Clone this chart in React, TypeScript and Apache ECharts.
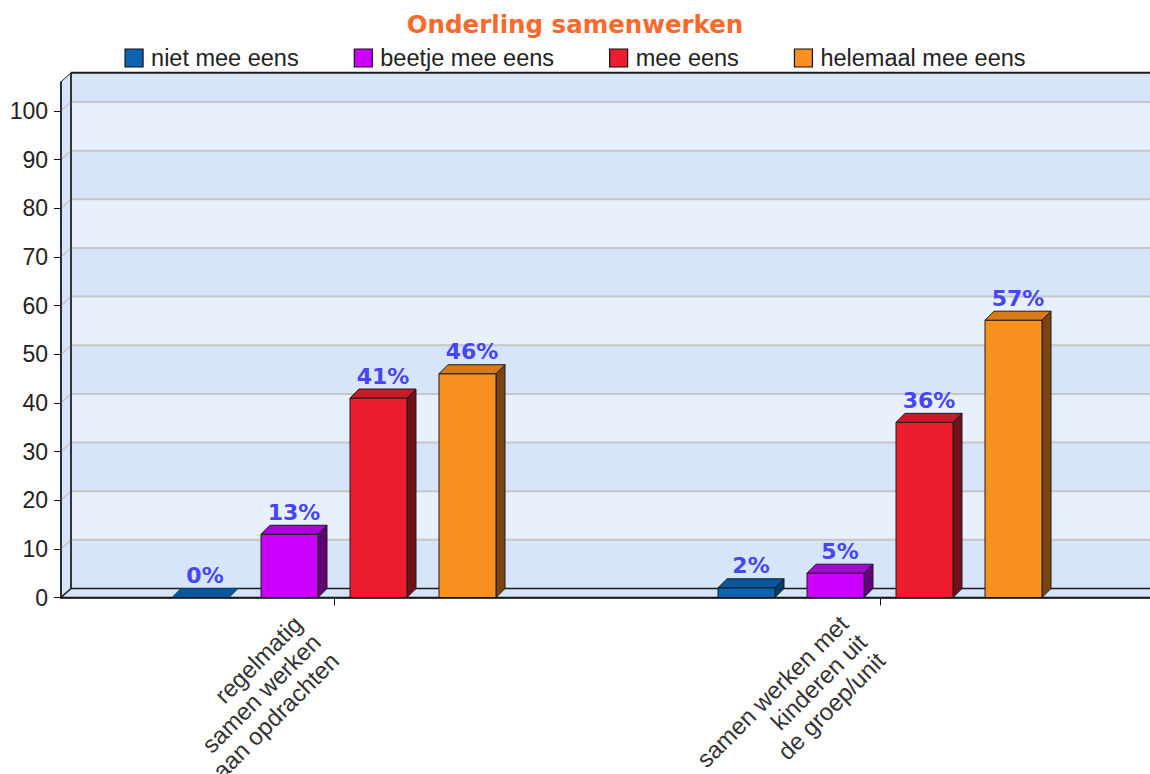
import React, { useEffect, useRef } from 'react';
import * as echarts from 'echarts';

// ---- data ----
const categories = [
  'regelmatig\nsamen werken\naan opdrachten',
  'samen werken met\nkinderen uit\nde groep/unit',
];
const seriesNames = ['niet mee eens', 'beetje mee eens', 'mee eens', 'helemaal mee eens'];
const nietMeeEens = [0, 2];
const beetjeMeeEens = [13, 5];
const meeEens = [41, 36];
const helemaalMeeEens = [46, 57];
const seriesValues = [nietMeeEens, beetjeMeeEens, meeEens, helemaalMeeEens];
const yTicks = [0, 10, 20, 30, 40, 50, 60, 70, 80, 90, 100];
const yMax = 106;

// ---- style ----
const FONT = "'Liberation Sans', Arial, sans-serif";
const BOLD_FONT = "'DejaVu Sans', 'Liberation Sans', sans-serif";
const DX = 10;
const DY = -9;
const BX = 9;
const BY = -9;
const BAR_W = 57 / 546;
const BAR_PITCH = 89 / 546;
const WALL_DARK = '#d7e5fb';
const WALL_LIGHT = '#e8f0fe';
const GRID = '#c6c6c6';
const EDGE = '#1c1c1c';

const palettes = [
  { front: '#0a64b2', top: '#09589d', side: '#063c6c' },
  { front: '#cc00ff', top: '#aa00d8', side: '#62007a' },
  { front: '#ed1d2f', top: '#c91a28', side: '#721018' },
  { front: '#f7901e', top: '#d8791a', side: '#7a4510' },
];

const barRender = (k: number) => (params: any, api: any) => {
  const c = api.value(0);
  const v = api.value(1);
  const base = api.coord([c, 0]);
  const topP = api.coord([c, v]);
  const bw = api.size([1, 0])[0];
  const w = bw * BAR_W;
  const cx = base[0] + (k - 1.5) * bw * BAR_PITCH;
  const x0 = cx - w / 2;
  const x1 = cx + w / 2;
  const yb = base[1];
  const yt = topP[1];
  const pal = palettes[k];
  const children: any[] = [];
  if (yb - yt > 0.5) {
    children.push({
      type: 'polygon',
      shape: { points: [[x1, yt], [x1 + BX, yt + BY], [x1 + BX, yb + BY], [x1, yb]] },
      style: { fill: pal.side, stroke: EDGE, lineWidth: 1 },
    });
    children.push({
      type: 'rect',
      shape: { x: x0, y: yt, width: w, height: yb - yt },
      style: { fill: pal.front, stroke: EDGE, lineWidth: 1 },
    });
  }
  children.push({
    type: 'polygon',
    shape: { points: [[x0, yt], [x1, yt], [x1 + BX, yt + BY], [x0 + BX, yt + BY]] },
    style: { fill: pal.top, stroke: yb - yt > 0.5 ? EDGE : pal.side, lineWidth: 1 },
  });
  children.push({
    type: 'text',
    x: cx + BX / 2,
    y: yt + BY - 2,
    style: {
      text: v + '%',
      fill: '#4646f6',
      fontSize: 22,
      fontWeight: 'bold',
      fontFamily: BOLD_FONT,
      align: 'center',
      verticalAlign: 'bottom',
    },
  });
  return { type: 'group', children };
};

const wallData = yTicks.map((t, i) => [0, t, i + 1 < yTicks.length ? yTicks[i + 1] : yMax]);

const wallRender = (params: any, api: any) => {
  const cs = params.coordSys;
  const v0 = api.value(1);
  const v1 = api.value(2);
  const y0 = api.coord([0, v0])[1] + DY;
  const y1 = api.coord([0, v1])[1] + DY;
  const xl = cs.x + DX;
  const xr = cs.x + cs.width + DX;
  const children: any[] = [
    {
      type: 'rect',
      shape: { x: xl, y: y1, width: xr - xl, height: y0 - y1 },
      style: { fill: params.dataIndex % 2 === 0 ? WALL_DARK : WALL_LIGHT },
    },
  ];
  if (v0 > 0) {
    children.push({
      type: 'line',
      shape: { x1: xl, y1: y0, x2: xr, y2: y0 },
      style: { stroke: GRID, lineWidth: 2 },
    });
  }
  return { type: 'group', children };
};

const frameRender = (params: any, api: any) => {
  const cs = params.coordSys;
  const yb = api.coord([0, api.value(1)])[1];
  const yt = api.coord([0, api.value(2)])[1];
  const xl = cs.x;
  const xr = cs.x + cs.width;
  const children: any[] = [
    {
      type: 'polygon',
      shape: { points: [[xl, yb], [xl, yt], [xl + DX, yt + DY], [xl + DX, yb + DY]] },
      style: { fill: WALL_DARK, stroke: EDGE, lineWidth: 1 },
    },
  ];
  yTicks.forEach((t) => {
    if (t <= 0) return;
    const y = api.coord([0, t])[1];
    children.push({
      type: 'line',
      shape: { x1: xl, y1: y, x2: xl + DX, y2: y + DY },
      style: { stroke: GRID, lineWidth: 1.5 },
    });
  });
  children.push({
    type: 'polygon',
    shape: { points: [[xl, yb], [xr, yb], [xr + DX, yb + DY], [xl + DX, yb + DY]] },
    style: { fill: '#d4e3f9', stroke: EDGE, lineWidth: 1.5 },
  });
  children.push({
    type: 'line',
    shape: { x1: xl + DX, y1: yt + DY, x2: xr + DX, y2: yt + DY },
    style: { stroke: EDGE, lineWidth: 2 },
  });
  children.push({
    type: 'line',
    shape: { x1: xl + DX, y1: yt + DY, x2: xl + DX, y2: yb + DY },
    style: { stroke: EDGE, lineWidth: 1.5 },
  });
  return { type: 'group', children };
};

export default function App() {
  const ref = useRef<HTMLDivElement>(null);
  useEffect(() => {
    if (!ref.current) return;
    const chart = echarts.init(ref.current, undefined, { renderer: 'svg' });
    const option: any = {
      animation: false,
      backgroundColor: '#ffffff',
      title: {
        text: 'Onderling samenwerken',
        left: 'center',
        top: 7,
        textStyle: { fontSize: 24.5, fontWeight: 'bold', color: '#f8692e', fontFamily: BOLD_FONT },
      },
      legend: {
        data: seriesNames,
        left: 'center',
        top: 41,
        icon: 'rect',
        itemWidth: 18,
        itemHeight: 18,
        itemGap: 55,
        itemStyle: { borderColor: '#111', borderWidth: 1.2 },
        textStyle: { fontSize: 23.5, color: '#222', fontFamily: FONT, padding: [0, 0, 0, 3] },
      },
      grid: {
        left: 61,
        right: -3,
        top: 81.8,
        bottom: 176.5,
        containLabel: false,
        outerBoundsMode: 'none',
      },
      xAxis: {
        type: 'category',
        data: categories,
        z: 10,
        axisLine: { show: true, lineStyle: { color: '#111', width: 1.5 } },
        axisTick: { show: true, alignWithLabel: true, length: 8, lineStyle: { color: '#111', width: 1 } },
        axisLabel: {
          interval: 0,
          rotate: 45,
          fontSize: 24,
          lineHeight: 26,
          color: '#333',
          fontFamily: FONT,
          margin: 23,
          padding: [0, 25, 0, 0],
        },
        splitLine: { show: false },
      },
      yAxis: {
        type: 'value',
        min: 0,
        max: yMax,
        interval: 10,
        z: 10,
        axisLine: { show: true, lineStyle: { color: '#111', width: 1.5 } },
        axisTick: { show: true, length: 7, customValues: yTicks, lineStyle: { color: '#111', width: 1 } },
        axisLabel: {
          customValues: yTicks,
          fontSize: 23,
          color: '#222',
          fontFamily: FONT,
          margin: 13,
          formatter: (v: number) => (v > 100 ? '' : String(v)),
        },
        splitLine: { show: false },
      },
      series: [
        {
          type: 'custom',
          name: 'wall',
          silent: true,
          z: 1,
          renderItem: wallRender,
          data: wallData,
          encode: { x: 0, y: [1, 2] },
        },
        {
          type: 'custom',
          name: 'frame',
          silent: true,
          z: 1,
          renderItem: frameRender,
          data: [[0, 0, yMax]],
          encode: { x: 0, y: [1, 2] },
        },
        ...seriesNames.map((name, k) => ({
          type: 'custom',
          name,
          z: 3,
          itemStyle: { color: palettes[k].front },
          renderItem: barRender(k),
          data: seriesValues[k].map((v, i) => [i, v]),
          encode: { x: 0, y: 1 },
        })),
      ],
    };
    chart.setOption(option);
    return () => chart.dispose();
  }, []);
  return (
    <div
      ref={ref}
      style={{ position: 'fixed', left: 0, top: 0, width: 1150, height: 774, background: '#fff' }}
    />
  );
}
